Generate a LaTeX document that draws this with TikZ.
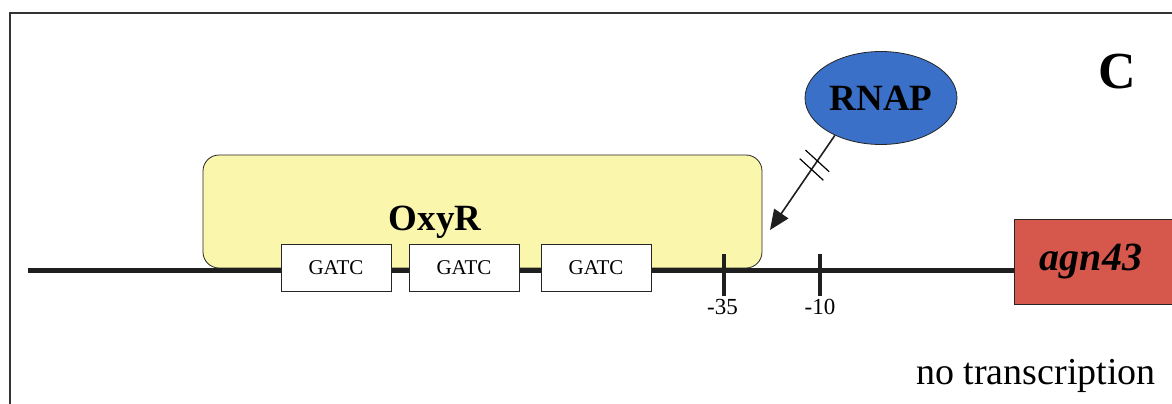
\documentclass[tikz,border=0pt]{standalone}
\usepackage{fontspec}
\setmainfont{Liberation Serif}
\usetikzlibrary{arrows.meta,positioning,shapes.geometric}
\definecolor{oxyyellow}{RGB}{250,246,172}
\definecolor{rnapblue}{RGB}{58,112,200}
\definecolor{genered}{RGB}{214,88,76}

\begin{document}
\begin{tikzpicture}[x=1pt, y=-1pt,
    dna/.style={line width=5pt, draw=black!88},
    tick/.style={line width=3.5pt, draw=black!88},
    regulator/.style={
      rectangle, rounded corners=16pt, draw=black!85, fill=oxyyellow,
      line width=0.8pt, minimum width=559pt, minimum height=113pt
    },
    site/.style={
      rectangle, draw=black!85, fill=white, line width=0.8pt,
      minimum width=110pt, minimum height=47pt, inner sep=0pt,
      font=\fontsize{21}{24}\selectfont
    },
    gene/.style={
      rectangle, draw=black!85, fill=genered, line width=0.8pt,
      minimum width=166pt, minimum height=85pt, inner sep=0pt,
      font=\fontsize{40}{44}\selectfont\bfseries\itshape
    },
    polymerase/.style={
      ellipse, draw=black!85, fill=rnapblue, line width=0.8pt,
      minimum width=152pt, minimum height=93pt, inner sep=0pt,
      font=\fontsize{37}{40}\selectfont\bfseries
    },
    poslabel/.style={font=\fontsize{23}{26}\selectfont, inner sep=0pt},
    arrow/.style={-{Triangle[length=20pt, width=17pt]}, line width=1.6pt, draw=black!88},
    cut/.style={sloped, inner sep=0pt, rotate=-8}
  ]
    \useasboundingbox (0,0) rectangle (1172,404);
    % frame
    \draw[line width=1.2pt, black!80] (10,404) -- (10,13) -- (1172,13);
    \node[font=\fontsize{52}{56}\selectfont\bfseries] (panel) at (1117,72) {C};

    % OxyR and the DNA
    \node[regulator] (oxyr) at (482.5,211.5) {};
    \node[font=\fontsize{37}{40}\selectfont\bfseries] (oxyrlbl) at (435,222) {OxyR};
    \node[gene] (agn) at (1097,261.5) {\hspace*{-12pt}agn43};
    \coordinate (start) at (28,270);
    \draw[dna] (start) -- (agn.west |- start);

    \node[site] (g1) at (336,268) {GATC};
    \node[site] (g2) at (464,268) {GATC};
    \node[site] (g3) at (596,268) {GATC};

    % promoter elements
    \coordinate (m35) at (724,275);
    \coordinate (m10) at (820,275);
    \draw[tick] ([yshift=-21pt]m35) -- ([yshift=21pt]m35);
    \draw[tick] ([yshift=-21pt]m10) -- ([yshift=21pt]m10);
    \node[poslabel, below left=24pt and -14pt of m35] (l35) {-35};
    \node[poslabel, below=24pt of m10] (l10) {-10};

    % RNAP blocked
    \node[polymerase] (rnap) at (881,98) {RNAP};
    \coordinate (blk) at (770,230);
    \draw[arrow] (rnap.219) -- (blk)
      node[cut, pos=0.27] {\rule{1.2pt}{32pt}}
      node[cut, pos=0.36] {\rule{1.2pt}{32pt}};

    \node[font=\fontsize{38}{42}\selectfont] (note) at (1036,376) {no transcription};
  \end{tikzpicture}
\end{document}
